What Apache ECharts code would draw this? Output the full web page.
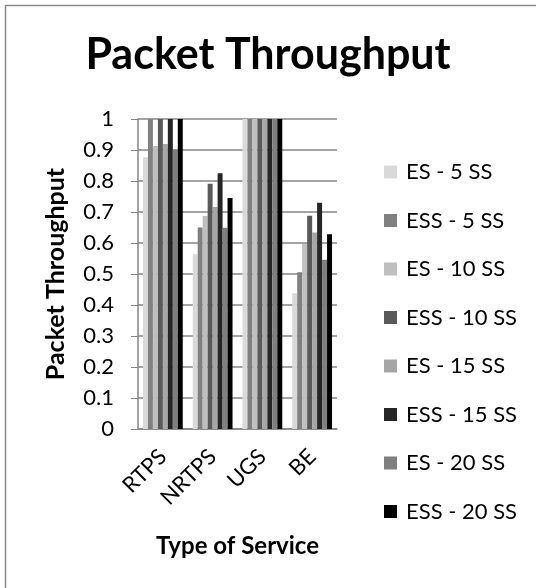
<!DOCTYPE html>
<html>
<head>
<meta charset="utf-8">
<script src="https://cdn.jsdelivr.net/npm/echarts@6/dist/echarts.min.js"></script>
<style>
  html, body { margin: 0; padding: 0; background: #fff; }
  #chart { width: 536px; height: 588px; }
</style>
</head>
<body>
<div id="chart"></div>
<script>
// Service classes along the category axis
const categories = ['RTPS', 'NRTPS', 'UGS', 'BE'];

// Packet throughput per scheduler / subscriber-station count
const seriesNames = ['ES - 5 SS', 'ESS - 5 SS', 'ES - 10 SS', 'ESS - 10 SS',
                     'ES - 15 SS', 'ESS - 15 SS', 'ES - 20 SS', 'ESS - 20 SS'];
const es5   = [0.877, 0.564, 1, 0.438];
const ess5  = [1,     0.650, 1, 0.506];
const es10  = [0.913, 0.687, 1, 0.597];
const ess10 = [1,     0.791, 1, 0.688];
const es15  = [0.919, 0.716, 1, 0.634];
const ess15 = [1,     0.825, 1, 0.730];
const es20  = [0.901, 0.649, 1, 0.546];
const ess20 = [1,     0.745, 1, 0.628];
const seriesValues = [es5, ess5, es10, ess10, es15, ess15, es20, ess20];

const colors = ['#d9d9d9', '#808080', '#bfbfbf', '#595959',
                '#a6a6a6', '#262626', '#7f7f7f', '#000000'];

const font = 'Lato, "Open Sans", sans-serif';

const chart = echarts.init(document.getElementById('chart'), null, { renderer: 'canvas' });

chart.setOption({
  animation: false,
  backgroundColor: '#ffffff',
  color: colors,
  graphic: [{
    type: 'rect',
    shape: { x: 5.5, y: 5.5, width: 600, height: 600 },
    style: { fill: 'none', stroke: '#8a8a8a', lineWidth: 1.5 },
    silent: true
  }],
  title: {
    text: 'Packet Throughput',
    left: 'center',
    top: 29,
    textStyle: { fontFamily: font, fontWeight: 'bold', fontSize: 43, color: '#000' }
  },
  legend: {
    orient: 'vertical',
    left: 379,
    top: 154,
    itemWidth: 13,
    itemHeight: 13,
    itemGap: 22.5,
    icon: 'rect',
    data: seriesNames,
    textStyle: { fontFamily: font, fontSize: 22, color: '#000', lineHeight: 26, padding: [0, 0, 0, 4] }
  },
  grid: { left: 138, right: 199, top: 119, bottom: 159, containLabel: false },
  xAxis: {
    type: 'category',
    data: categories,
    name: 'Type of Service',
    nameLocation: 'middle',
    nameGap: 105,
    nameTextStyle: { fontFamily: font, fontWeight: 'bold', fontSize: 24, color: '#000' },
    axisLine: { lineStyle: { color: '#868686', width: 1.5 } },
    axisTick: { show: false },
    axisLabel: { rotate: 45, fontFamily: font, fontSize: 22, color: '#000', margin: 24 }
  },
  yAxis: {
    type: 'value',
    min: 0,
    max: 1,
    interval: 0.1,
    name: 'Packet Throughput',
    nameLocation: 'middle',
    nameGap: 70,
    nameTextStyle: { fontFamily: font, fontWeight: 'bold', fontSize: 25, color: '#000' },
    axisLine: { show: true, lineStyle: { color: '#868686', width: 1.5 } },
    axisTick: { show: true, length: 7, lineStyle: { color: '#868686' } },
    splitLine: { lineStyle: { color: '#868686', width: 1.5 } },
    axisLabel: { fontFamily: font, fontSize: 22, color: '#000', margin: 24 }
  },
  series: seriesNames.map((name, i) => ({
    name: name,
    type: 'bar',
    data: seriesValues[i],
    barGap: '0%',
    barCategoryGap: '20%',
    itemStyle: { color: colors[i] }
  }))
});
</script>
</body>
</html>
